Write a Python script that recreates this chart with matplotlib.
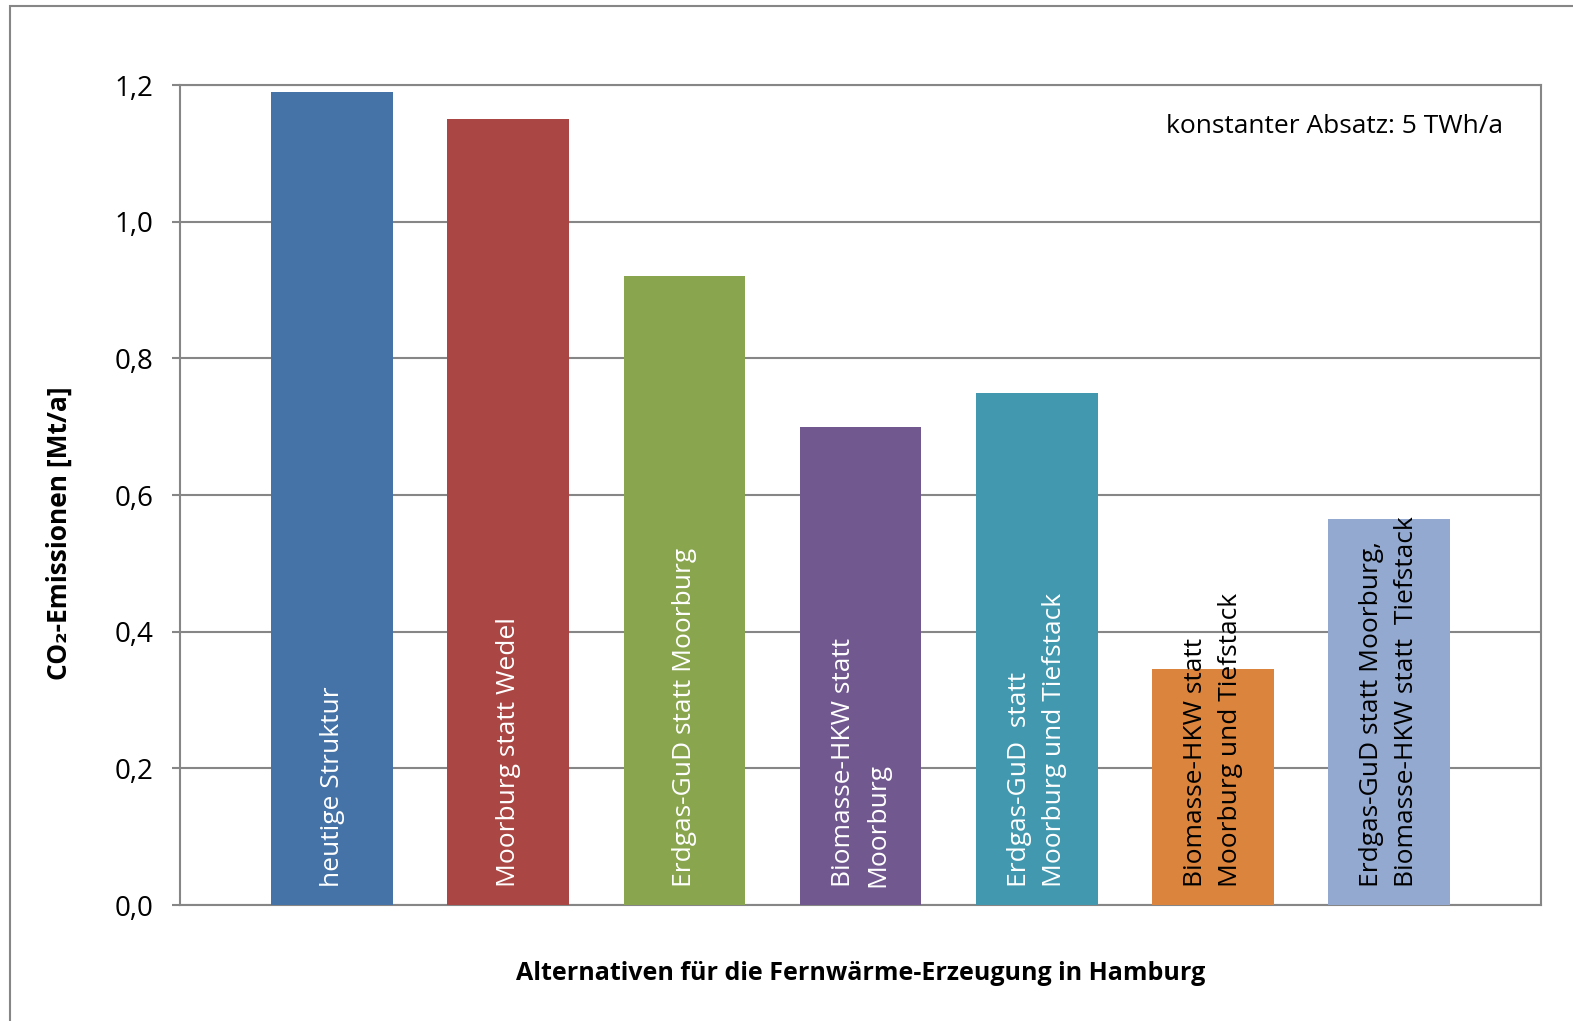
# -*- coding: utf-8 -*-
# CO2-Emissionen der Fernwärme-Alternativen in Hamburg
import matplotlib
matplotlib.use('Agg')
import matplotlib.pyplot as plt
from matplotlib.patches import Rectangle
from matplotlib.ticker import FuncFormatter

# Daten
alternativen = ['heutige Struktur',
                'Moorburg statt Wedel',
                'Erdgas-GuD statt Moorburg',
                'Biomasse-HKW statt\nMoorburg',
                'Erdgas-GuD  statt\nMoorburg und Tiefstack',
                'Biomasse-HKW statt\nMoorburg und Tiefstack',
                'Erdgas-GuD statt Moorburg,\nBiomasse-HKW statt  Tiefstack']
co2_emissionen = [1.19, 1.15, 0.92, 0.70, 0.75, 0.345, 0.565]
farben = ['#4572A7', '#AA4643', '#89A54E', '#71588F', '#4198AF', '#DB843D', '#93A9CF']
textfarben = ['white', 'white', 'white', 'white', 'white', 'black', 'black']
y_ticks = [0.0, 0.2, 0.4, 0.6, 0.8, 1.0, 1.2]

plt.rcParams['font.family'] = ['Open Sans', 'DejaVu Sans']
grau = '#868686'

fig = plt.figure(figsize=(15.73, 10.21), dpi=100)
ax = fig.add_axes([0.1144, 0.1136, 0.8651, 0.8031])

# Rahmen um das Diagramm (rechts und unten abgeschnitten)
fig.patches.append(Rectangle((10 / 1573, -0.1), 1.2, 1.1 - 6 / 1021,
                             transform=fig.transFigure, fill=False,
                             edgecolor=grau, linewidth=1.5))

x = range(len(alternativen))
ax.bar(x, co2_emissionen, width=0.69, color=farben, zorder=3)

# Beschriftungen in den Balken
for i, (name, farbe) in enumerate(zip(alternativen, textfarben)):
    ax.text(i, 0.026, name, rotation=90, ha='center', va='bottom',
            multialignment='left', color=farbe, fontsize=19,
            linespacing=1.5, zorder=4)

ax.set_xlim(-0.863, 6.86)
ax.set_ylim(0, 1.2)
ax.set_xticks([])
ax.set_yticks(y_ticks)
ax.yaxis.set_major_formatter(FuncFormatter(lambda v, p: ('%.1f' % v).replace('.', ',')))
ax.tick_params(axis='y', length=6, width=1.5, color=grau, pad=13, labelsize=20)
ax.grid(axis='y', color=grau, linewidth=1.5, zorder=0)
for s in ax.spines.values():
    s.set_color(grau)
    s.set_linewidth(1.5)

ax.set_ylabel('CO₂-Emissionen [Mt/a]', fontsize=19, fontweight='bold')
ax.yaxis.set_label_coords(-0.079, 0.454)
ax.set_xlabel('Alternativen für die Fernwärme-Erzeugung in Hamburg',
              fontsize=18, fontweight='bold')
ax.xaxis.set_label_coords(0.5, -0.068)

ax.text(0.972, 0.949, 'konstanter Absatz: 5 TWh/a', transform=ax.transAxes,
        ha='right', va='center', fontsize=19)

plt.savefig('out.png', dpi=100)
